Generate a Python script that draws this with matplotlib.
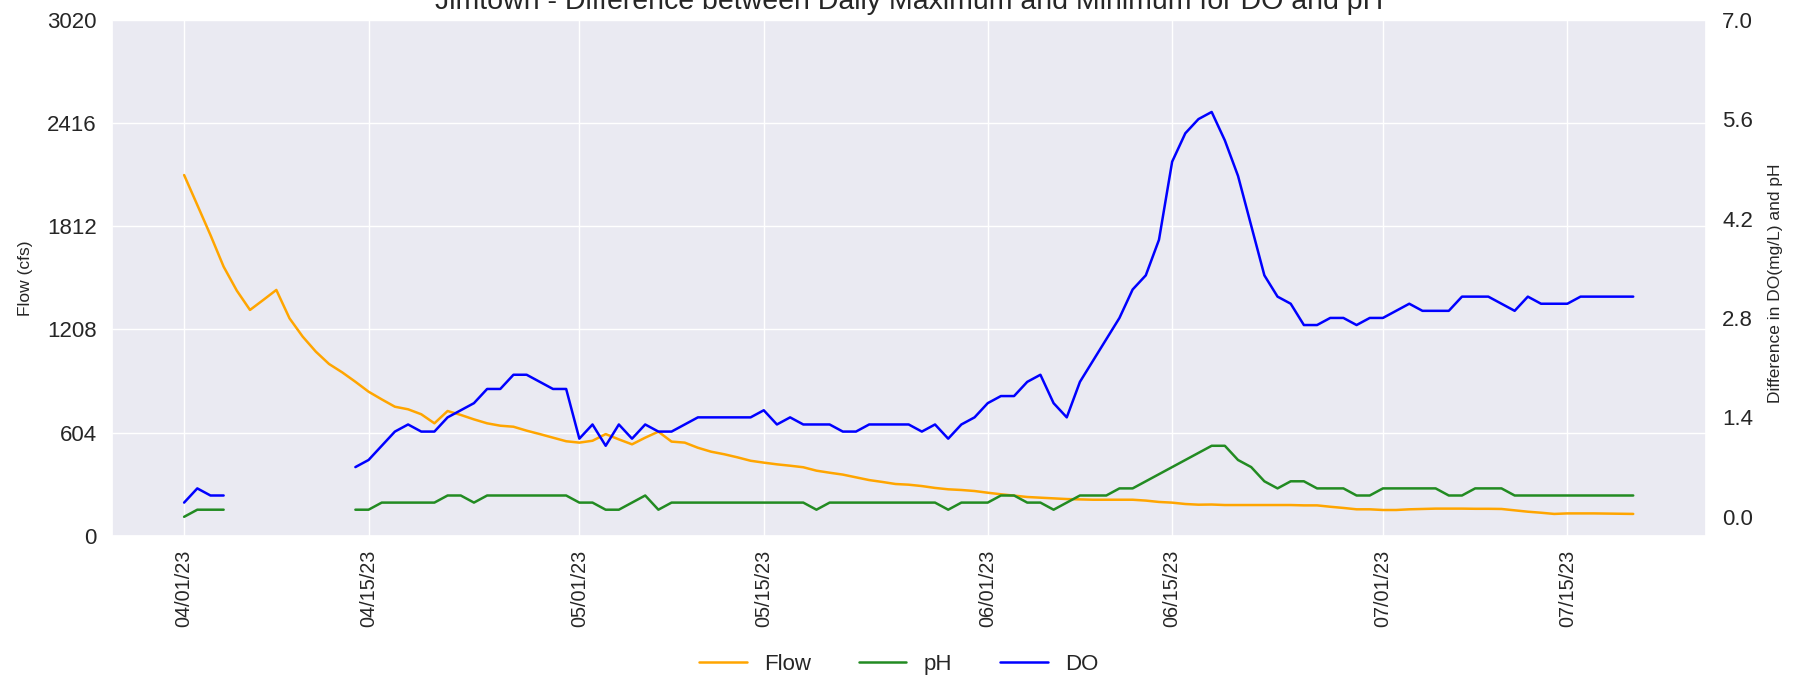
"""
Jimtown: daily max-min difference for DO and pH, with flow on the left axis.
"""
import matplotlib
matplotlib.use("Agg")
import matplotlib.dates as mdates
import matplotlib.pyplot as plt
import numpy as np
import pandas as pd
import seaborn as sns

nan = np.nan

dates = pd.date_range("2023-04-01", "2023-07-20", freq="D")

flow_cfs = [
    2111, 1936, 1760, 1575, 1435, 1322, 1380, 1439, 1273, 1166,
    1078, 1006, 957, 902, 844, 799, 756, 741, 712, 659,
    731, 708, 682, 659, 645, 639, 616, 596, 575, 554,
    546, 557, 596, 565, 536, 575, 610, 552, 546, 516,
    493, 478, 460, 440, 429, 419, 411, 402, 382, 370,
    359, 343, 327, 316, 304, 300, 292, 281, 273, 269,
    263, 253, 244, 236, 228, 224, 220, 216, 214, 212,
    212, 212, 212, 207, 199, 195, 187, 183, 184, 181,
    181, 181, 181, 181, 181, 179, 179, 171, 164, 156,
    156, 152, 152, 156, 158, 160, 160, 160, 159, 159,
    158, 150, 142, 136, 129, 132, 132, 132, 131, 130, 129,
]

do_diff = [
    0.2, 0.4, 0.3, 0.3, nan, nan, nan, nan, nan, nan,
    nan, nan, nan, 0.7, 0.8, 1.0, 1.2, 1.3, 1.2, 1.2,
    1.4, 1.5, 1.6, 1.8, 1.8, 2.0, 2.0, 1.9, 1.8, 1.8,
    1.1, 1.3, 1.0, 1.3, 1.1, 1.3, 1.2, 1.2, 1.3, 1.4,
    1.4, 1.4, 1.4, 1.4, 1.5, 1.3, 1.4, 1.3, 1.3, 1.3,
    1.2, 1.2, 1.3, 1.3, 1.3, 1.3, 1.2, 1.3, 1.1, 1.3,
    1.4, 1.6, 1.7, 1.7, 1.9, 2.0, 1.6, 1.4, 1.9, 2.2,
    2.5, 2.8, 3.2, 3.4, 3.9, 5.0, 5.4, 5.6, 5.7, 5.3,
    4.8, 4.1, 3.4, 3.1, 3.0, 2.7, 2.7, 2.8, 2.8, 2.7,
    2.8, 2.8, 2.9, 3.0, 2.9, 2.9, 2.9, 3.1, 3.1, 3.1,
    3.0, 2.9, 3.1, 3.0, 3.0, 3.0, 3.1, 3.1, 3.1, 3.1, 3.1,
]

ph_diff = [
    0.0, 0.1, 0.1, 0.1, nan, nan, nan, nan, nan, nan,
    nan, nan, nan, 0.1, 0.1, 0.2, 0.2, 0.2, 0.2, 0.2,
    0.3, 0.3, 0.2, 0.3, 0.3, 0.3, 0.3, 0.3, 0.3, 0.3,
    0.2, 0.2, 0.1, 0.1, 0.2, 0.3, 0.1, 0.2, 0.2, 0.2,
    0.2, 0.2, 0.2, 0.2, 0.2, 0.2, 0.2, 0.2, 0.1, 0.2,
    0.2, 0.2, 0.2, 0.2, 0.2, 0.2, 0.2, 0.2, 0.1, 0.2,
    0.2, 0.2, 0.3, 0.3, 0.2, 0.2, 0.1, 0.2, 0.3, 0.3,
    0.3, 0.4, 0.4, 0.5, 0.6, 0.7, 0.8, 0.9, 1.0, 1.0,
    0.8, 0.7, 0.5, 0.4, 0.5, 0.5, 0.4, 0.4, 0.4, 0.3,
    0.3, 0.4, 0.4, 0.4, 0.4, 0.4, 0.3, 0.3, 0.4, 0.4,
    0.4, 0.3, 0.3, 0.3, 0.3, 0.3, 0.3, 0.3, 0.3, 0.3, 0.3,
]

FLOW_MAX = 3020
DIFF_MAX = 7.0
TITLE = "Jimtown - Difference between Daily Maximum and Minimum for DO and pH"

sns.set_theme(style="darkgrid")
plt.rcParams["font.family"] = ["Liberation Sans", "DejaVu Sans"]

fig, ax = plt.subplots(figsize=(18.04, 6.77), dpi=100)
fig.subplots_adjust(left=0.0619, right=0.9455, top=0.971, bottom=0.2083)

LW = 1.8
l_flow, = ax.plot(dates, flow_cfs, color="orange", lw=LW, label="Flow")
ax.set_ylim(0, FLOW_MAX)
ax.set_yticks(np.linspace(0, FLOW_MAX, 6))
ax.set_ylabel("Flow (cfs)", fontsize=12.5)
ax.yaxis.set_label_coords(-0.0495, 0.5)
ax.tick_params(axis="y", labelsize=16, pad=10.8, length=0, colors="#262626")
ax.tick_params(axis="x", labelsize=14.3, pad=10, length=0, rotation=90, colors="#262626")
ax.xaxis.set_major_locator(mdates.DayLocator(bymonthday=[1, 15]))
ax.xaxis.set_major_formatter(mdates.DateFormatter("%m/%d/%y"))
ax.set_title(TITLE, fontsize=20.5, pad=8.0)

ax2 = ax.twinx()
ax2.grid(False)
l_ph, = ax2.plot(dates, ph_diff, color="forestgreen", lw=LW, label="pH")
l_do, = ax2.plot(dates, do_diff, color="blue", lw=LW, label="DO")
ax2.set_ylim(-0.27, DIFF_MAX)
ax2.set_yticks(np.linspace(0, DIFF_MAX, 6))
ax2.set_ylabel("Difference in DO(mg/L) and pH", fontsize=12.5)
ax2.yaxis.set_label_coords(1.039, 0.49)
ax2.tick_params(axis="y", labelsize=16, pad=12, length=0, colors="#262626")
for s in ax2.spines.values():
    s.set_visible(False)

fig.legend(
    [l_flow, l_ph, l_do], ["Flow", "pH", "DO"],
    loc="center", bbox_to_anchor=(0.4983, 0.0192), ncol=3, frameon=False,
    fontsize=16, handlelength=2.14, handletextpad=0.79, columnspacing=2.14,
)

fig.savefig("out.png", dpi=100)
